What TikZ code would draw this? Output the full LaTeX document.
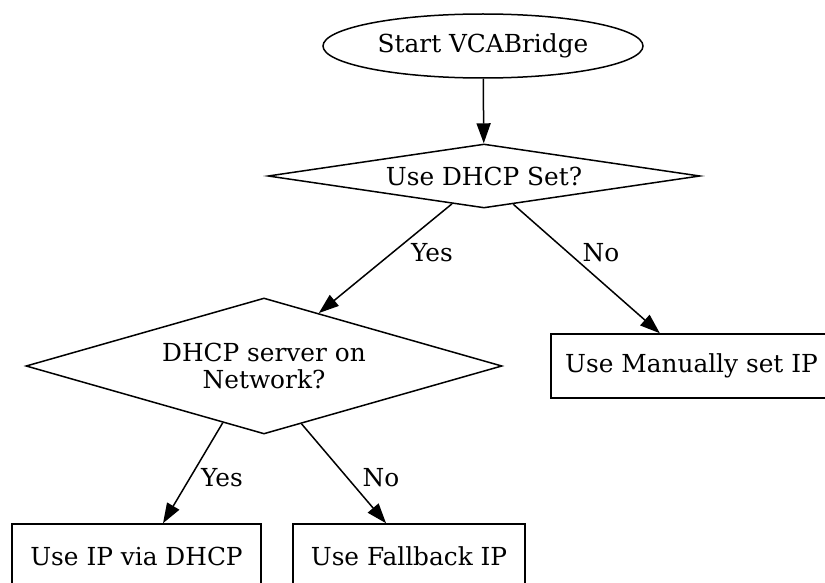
\documentclass[tikz,border=0pt]{standalone}
\usepackage{fontspec}
\setmainfont{DejaVu Serif}
\usetikzlibrary{shapes.geometric,arrows.meta}
\begin{document}
\begin{tikzpicture}[x=1pt,y=-1pt,
  every node/.style={font=\fontsize{24.8}{26.5}\selectfont},
  shp/.style={draw,line width=1.5pt,inner sep=0pt},
  ell/.style={shp,ellipse,minimum width=320pt,minimum height=64pt},
  dia/.style={shp,diamond,align=center},
  boxn/.style={shp,rectangle,minimum height=64pt},
  arr/.style={line width=1.5pt,-{Triangle[length=20pt,width=14pt]}},
  lbl/.style={inner sep=0pt}]
\useasboundingbox (0,0) rectangle (825,583);
\clip (0,0) rectangle (825,583);
\node[ell] (start) at (483,46) {Start VCABridge};
\node[dia,aspect=6.75,minimum width=432pt,minimum height=64pt] (d1) at (484,176) {Use DHCP Set?};
\node[dia,aspect=3.5,minimum width=476pt,minimum height=136pt] (d2) at (264,366) {DHCP server on\\Network?};
\node[boxn,minimum width=281pt] (manual) at (691.5,366) {Use Manually set IP};
\node[boxn,minimum width=249pt] (viadhcp) at (136.5,556) {Use IP via DHCP};
\node[boxn,minimum width=232pt] (fallback) at (409,556) {Use Fallback IP};
\draw[arr] (start) -- (d1);
\draw[arr] (d1.221) -- (d2.44);
\draw[arr] (d1.316) -- (manual.134);
\draw[arr] (d2.234.7) -- (viadhcp.51);
\draw[arr] (d2.303.9) -- (fallback.125.7);
\node[lbl] (l1) at (432,253) {Yes};
\node[lbl] (l2) at (601,253) {No};
\node[lbl] (l3) at (222,478) {Yes};
\node[lbl] (l4) at (381,478) {No};
\end{tikzpicture}
\end{document}
